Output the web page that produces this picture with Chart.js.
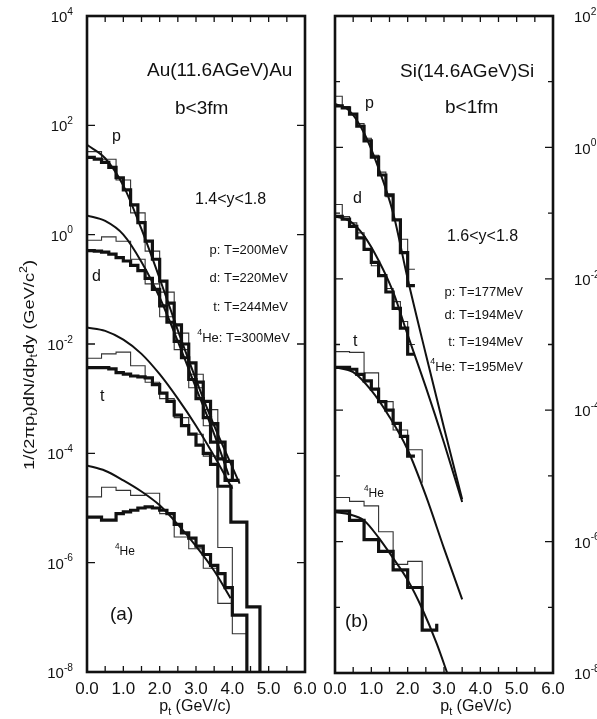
<!DOCTYPE html>
<html>
<head>
<meta charset="utf-8">
<script src="https://cdn.jsdelivr.net/npm/chart.js@4/dist/chart.umd.min.js"></script>
<style>
  html, body { margin: 0; padding: 0; background: #fff; overflow: hidden; width: 597px; height: 719px; }
  #left { position: absolute; left: 0; top: 0; }
  #right { position: absolute; left: 320px; top: 0; }
</style>
</head>
<body>
<canvas id="left" width="320" height="719"></canvas>
<canvas id="right" width="300" height="719"></canvas>
<script>
// ---- axis ticks ----
const xTicks = [0, 1, 2, 3, 4, 5, 6];
const xTickLabels = ['0.0', '1.0', '2.0', '3.0', '4.0', '5.0', '6.0'];
const auYExp = [4, 2, 0, -2, -4, -6, -8];
const siYExp = [2, 0, -2, -4, -6, -8];

// ---- (a) Au+Au, histogram bin edges (GeV/c) ----
const auEdgesP = [0,0.2,0.4,0.6,0.8,1.0,1.2,1.4,1.6,1.8,2.0,2.2,2.4,2.6,2.8,3.0,3.2,3.4,3.6,3.8,4.0,4.2];
const auEdgesD = [0,0.2,0.4,0.6,0.8,1.0,1.2,1.4,1.6,1.8,2.0,2.2,2.4,2.6,2.8,3.0,3.2,3.4,3.6,3.8,4.0];
const auEdgesT = [0,0.2,0.4,0.6,0.8,1.0,1.2,1.4,1.6,1.8,2.0,2.2,2.4,2.6,2.8,3.0,3.2,3.4,3.6,3.96,4.4,4.76];
const auEdgesHe = [0,0.2,0.4,0.6,0.8,1.0,1.2,1.4,1.6,1.8,2.0,2.2,2.4,2.6,2.8,3.0,3.2,3.4,3.6,3.8,4.0,4.4];
const auEdgesWide = [0,0.4,0.8,1.2,1.6,2.0,2.4,2.8,3.2,3.6,4.0];
const auEdgesWideP = [0,0.4,0.8,1.2,1.6,2.0,2.4,2.8,3.2,3.6,4.0,4.4];

// thick histograms
const auPThick = [26,24,21,17,11,6.6,3.5,1.66,0.76,0.355,0.141,0.056,0.0224,0.01,0.0045,0.002,8.9e-4,3.5e-4,1.6e-4,7.1e-5,3.2e-5];
const auDThick = [0.51,0.50,0.48,0.44,0.38,0.33,0.275,0.22,0.158,0.1,0.05,0.025,0.0112,0.0056,0.00224,0.001,4.5e-4,1.6e-4,7.9e-5,3.2e-5];
const auTThick = [3.7e-3,3.7e-3,3.7e-3,3.5e-3,3.0e-3,2.8e-3,2.6e-3,2.5e-3,2.4e-3,1.8e-3,1.26e-3,8.9e-4,5.0e-4,3.2e-4,2.24e-4,1.41e-4,1.0e-4,6.3e-5,2.5e-5,5.5e-6,1.55e-7];
const auHeThick = [6.8e-6,6.8e-6,6.0e-6,6.0e-6,7.9e-6,8.5e-6,9.1e-6,1.0e-5,1.05e-5,1.0e-5,9.1e-6,7.9e-6,5.0e-6,3.5e-6,2.8e-6,2.0e-6,1.41e-6,8.9e-7,6.3e-7,3.5e-7,1.1e-7];
// thin histograms
const auPThin = [33,24,10,2.5,0.5,0.089,0.0158,0.0028,6.3e-4,1.9e-6,5e-8];
const auDThin = [0.79,0.91,0.76,0.355,0.126,0.0316,0.0079,0.00158,3.2e-4,2.5e-5];
const auTThin = [5.5e-3,6.6e-3,7.1e-3,4.0e-3,2.0e-3,1.0e-3,4.5e-4,2.24e-4,8.9e-5,2.5e-5];
const auHeThin = [1.6e-5,2.4e-5,2.1e-5,1.7e-5,1.86e-5,7.9e-6,2.95e-6,1.8e-6,7.9e-7,1.8e-7];
// fit curves
const auPCurvePt = [0,0.5,1.0,1.5,2.0,2.5,3.0,3.5,4.0,4.2];
const auPCurve = [44,25,7.9,1.26,0.158,0.0178,0.00224,3.2e-4,5.6e-5,2.8e-5];
const auDCurvePt = [0,0.5,1.0,1.5,2.0,2.5,3.0,3.5,3.9];
const auDCurve = [2.24,1.78,1.0,0.316,0.0708,0.0112,0.00158,2.24e-4,4.0e-5];
const auTCurvePt = [0,0.5,1.0,1.5,2.0,2.5,3.0,3.5,4.0];
const auTCurve = [0.02,0.0174,0.012,0.0066,0.0028,0.001,3.2e-4,8.9e-5,2.24e-5];
const auHeCurvePt = [0,0.5,1.0,1.5,2.0,2.5,3.0,3.5,3.95];
const auHeCurve = [6.0e-5,4.8e-5,3.2e-5,2.0e-5,1.12e-5,5.0e-6,2.0e-6,7.1e-7,2.24e-7];

// ---- (b) Si+Si ----
const siEdges = [0,0.2,0.4,0.6,0.8,1.0,1.2,1.4,1.6,1.8,2.0,2.2];
const siEdgesWideT = [0,0.4,0.8,1.2,1.6,2.0,2.4];
const siEdgesWideHe = [0,0.4,0.8,1.2,1.6,2.0,2.4,2.8];

const siPThick = [4.3,4.0,3.2,2.1,1.26,0.71,0.38,0.19,0.079,0.025,0.0079];
const siPThin = [6.0,4.2,3.2,2.3,1.38,0.76,0.42,0.178,0.079,0.04,0.014];
const siDThick = [0.089,0.081,0.063,0.042,0.028,0.0178,0.0112,0.0063,0.00355,0.00178,7.1e-4];
const siDThin = [0.135,0.089,0.071,0.05,0.028,0.0158,0.0112,0.0071,0.0045,0.00224,0.001];
const siTThick = [4.5e-4,4.5e-4,4.2e-4,3.5e-4,2.8e-4,2.1e-4,1.35e-4,1.0e-4,6.3e-5,4.0e-5,2.0e-5];
const siTThin = [7.8e-4,7.6e-4,3.7e-4,1.35e-4,5.0e-5,2.5e-5];
const siHeThick = [2.9e-6,2.1e-6,1.07e-6,7.1e-7,3.7e-7,2.0e-7,4.5e-8];
const siHeThin = [4.7e-6,4.1e-6,3.5e-6,1.41e-6,4.5e-7,5.0e-7];

const siCurvePt = [0,0.4,0.8,1.2,1.6,2.0,2.5,3.0,3.5];
const siPCurve = [4.6,3.6,1.66,0.48,0.1,0.01,7.1e-4,5.4e-5,4.4e-6];
const siDCurve = [0.089,0.076,0.045,0.019,0.0063,0.0014,2.24e-4,3.2e-5,4.0e-6];
const siTCurvePt = [0,0.5,1.0,1.5,2.0,2.5,3.0,3.5];
const siTCurve = [4.5e-4,3.8e-4,2.0e-4,7.9e-5,2.5e-5,5.0e-6,7.9e-7,1.32e-7];
const siHeCurvePt = [0,0.4,0.8,1.2,1.6,2.0,2.4,2.8,3.12];
const siHeCurve = [2.8e-6,2.6e-6,2.1e-6,1.15e-6,5.6e-7,2.6e-7,9.5e-8,2.8e-8,8.9e-9];

const INK = '#111';
const FONT = '"Liberation Sans", Arial, Helvetica, sans-serif';

// histogram -> step points
function steps(edges, vals, tail) {
  const pts = vals.map((v, i) => ({x: edges[i], y: v}));
  pts.push({x: edges[edges.length - 1], y: vals[vals.length - 1]});
  if (tail !== undefined) pts.push({x: edges[edges.length - 1], y: tail});
  return pts;
}
function thick(data) {
  return {data, borderColor: INK, borderWidth: 3.2, stepped: true, pointRadius: 0, fill: false};
}
function thin(data) {
  return {data, borderColor: '#333', borderWidth: 1.1, stepped: true, pointRadius: 0, fill: false};
}
function curve(pts, vals) {
  return {data: pts.map((x, i) => ({x, y: vals[i]})), borderColor: INK, borderWidth: 2,
    cubicInterpolationMode: 'monotone', pointRadius: 0, fill: false};
}

// text with sub/superscripts: parts = [[text, 'sup'|'sub'|undefined], ...]
function rich(ctx, parts, x, y, size, align, width) {
  const small = size * 0.68;
  let w = 0;
  const ms = parts.map(p => {
    ctx.font = (p[1] ? small : size) + 'px ' + FONT;
    const m = ctx.measureText(p[0]).width;
    w += m;
    return m;
  });
  const sx = width ? width / w : 1;
  const x0 = align === 'right' ? x - w * sx : align === 'center' ? x - w * sx / 2 : x;
  ctx.save();
  ctx.translate(x0, y);
  ctx.scale(sx, 1);
  ctx.textBaseline = 'middle';
  ctx.textAlign = 'left';
  let cx = 0;
  parts.forEach((p, i) => {
    ctx.font = (p[1] ? small : size) + 'px ' + FONT;
    const dy = p[1] === 'sup' ? -size * 0.4 : p[1] === 'sub' ? size * 0.3 : 0;
    ctx.fillText(p[0], cx, dy);
    cx += ms[i];
  });
  ctx.restore();
}

const framePlugin = {
  id: 'frame',
  afterDatasetsDraw(chart, args, opt) {
    const ctx = chart.ctx, a = chart.chartArea;
    const xs = chart.scales.x, ys = chart.scales.y;
    const off = opt.offset;
    ctx.save();
    ctx.strokeStyle = INK;
    ctx.fillStyle = INK;

    // inward ticks
    ctx.lineWidth = 1.3;
    ctx.beginPath();
    for (let v = 0.5; v < 6; v += 0.5) {
      const px = xs.getPixelForValue(v);
      ctx.moveTo(px, a.bottom); ctx.lineTo(px, a.bottom - 6);
      ctx.moveTo(px, a.top); ctx.lineTo(px, a.top + 6);
    }
    for (let e = opt.yExp[0]; e >= opt.yExp[opt.yExp.length - 1]; e--) {
      const major = e % 2 === 0;
      if (!major && !opt.oddTicks) continue;
      const len = major ? 8 : 5;
      const py = ys.getPixelForValue(Math.pow(10, e));
      ctx.moveTo(a.left, py); ctx.lineTo(a.left + len, py);
      ctx.moveTo(a.right, py); ctx.lineTo(a.right - len, py);
    }
    ctx.stroke();

    // frame
    ctx.lineWidth = 2.6;
    ctx.strokeRect(a.left, a.top, a.right - a.left, a.bottom - a.top);

    // x tick labels
    xTicks.forEach((v, i) => {
      rich(ctx, [[xTickLabels[i]]], xs.getPixelForValue(v), 689, 17, 'center');
    });
    // y tick labels (right-hand ones run past the page edge, as in the scan)
    opt.yExp.forEach(e => {
      const py = ys.getPixelForValue(Math.pow(10, e));
      const parts = [['10'], [String(e), 'sup']];
      if (opt.labelSide === 'left') rich(ctx, parts, 73 - off, py + 2, 15, 'right');
      else rich(ctx, parts, 574 - off, py + 2, 15, 'left');
    });

    // annotations
    opt.texts.forEach(t => rich(ctx, t.parts, t.x - off, t.y, t.size, t.align || 'left', t.width));

    // axis titles
    rich(ctx, [['p'], ['t', 'sub'], [' (GeV/c)']], opt.xTitleX - off, 707, 16, 'center');
    if (opt.yTitle) {
      ctx.save();
      ctx.translate(30, 365);
      ctx.rotate(-Math.PI / 2);
      rich(ctx, [['1/(2\u03c0p'], ['t', 'sub'], [')dN/dp'], ['t', 'sub'], ['dy (GeV/c'], ['2', 'sup'], [')']],
        0, 0, 15, 'center', 210);
      ctx.restore();
    }
    ctx.restore();
  }
};

function makePanel(id, datasets, yMin, yMax, padding, frame) {
  return new Chart(document.getElementById(id), {
    type: 'line',
    data: {datasets},
    options: {
      responsive: false,
      animation: false,
      devicePixelRatio: 1,
      events: [],
      layout: {padding},
      plugins: {legend: {display: false}, tooltip: {enabled: false}, frame},
      scales: {
        x: {type: 'linear', min: 0, max: 6, display: false},
        y: {type: 'logarithmic', min: yMin, max: yMax, display: false}
      }
    },
    plugins: [framePlugin]
  });
}

const BOTTOM = 1e-9;

makePanel('left', [
  thick(steps(auEdgesP, auPThick)),
  thick(steps(auEdgesD, auDThick)),
  thick(steps(auEdgesT, auTThick, BOTTOM)),
  thick(steps(auEdgesHe, auHeThick, BOTTOM)),
  curve(auPCurvePt, auPCurve),
  curve(auDCurvePt, auDCurve),
  curve(auTCurvePt, auTCurve),
  curve(auHeCurvePt, auHeCurve),
  thin(steps(auEdgesWideP, auPThin, BOTTOM)),
  thin(steps(auEdgesWide, auDThin)),
  thin(steps(auEdgesWide, auTThin)),
  thin(steps(auEdgesWide, auHeThin))
], 1e-8, 1e4, {left: 87, right: 15, top: 16, bottom: 47}, {
  offset: 0,
  yExp: auYExp,
  oddTicks: false,
  labelSide: 'left',
  xTitleX: 195,
  yTitle: true,
  texts: [
    {parts: [['Au(11.6AGeV)Au']], x: 147, y: 71, size: 19},
    {parts: [['b<3fm']], x: 175, y: 109, size: 19},
    {parts: [['p']], x: 112, y: 137, size: 16},
    {parts: [['1.4<y<1.8']], x: 195, y: 200, size: 16},
    {parts: [['p: T=200MeV']], x: 288, y: 250, size: 13, align: 'right'},
    {parts: [['d: T=220MeV']], x: 288, y: 278, size: 13, align: 'right'},
    {parts: [['t: T=244MeV']], x: 288, y: 307, size: 13, align: 'right'},
    {parts: [['4', 'sup'], ['He: T=300MeV']], x: 290, y: 338, size: 13, align: 'right'},
    {parts: [['d']], x: 92, y: 277, size: 16},
    {parts: [['t']], x: 100, y: 397, size: 16},
    {parts: [['4', 'sup'], ['He']], x: 115, y: 552, size: 12},
    {parts: [['(a)']], x: 110, y: 615, size: 19}
  ]
});

makePanel('right', [
  thick(steps(siEdges, siPThick)),
  thick(steps(siEdges, siDThick)),
  thick(steps(siEdges, siTThick)),
  thick(steps(siEdgesWideHe, siHeThick, 5.6e-8)),
  curve(siCurvePt, siPCurve),
  curve(siCurvePt, siDCurve),
  curve(siTCurvePt, siTCurve),
  curve(siHeCurvePt, siHeCurve),
  thin(steps(siEdges, siPThin)),
  thin(steps(siEdges, siDThin)),
  thin(steps(siEdgesWideT, siTThin, 7.9e-6)),
  thin(steps(siEdgesWideT, siHeThin, 2.0e-7))
], 1e-8, 1e2, {left: 15, right: 67, top: 16, bottom: 46}, {
  offset: 320,
  yExp: siYExp,
  oddTicks: true,
  labelSide: 'right',
  xTitleX: 476,
  yTitle: false,
  texts: [
    {parts: [['Si(14.6AGeV)Si']], x: 400, y: 72, size: 19},
    {parts: [['b<1fm']], x: 445, y: 108, size: 19},
    {parts: [['p']], x: 365, y: 104, size: 16},
    {parts: [['d']], x: 353, y: 199, size: 16},
    {parts: [['1.6<y<1.8']], x: 447, y: 237, size: 16},
    {parts: [['p: T=177MeV']], x: 523, y: 292, size: 13, align: 'right'},
    {parts: [['d: T=194MeV']], x: 523, y: 315, size: 13, align: 'right'},
    {parts: [['t: T=194MeV']], x: 523, y: 342, size: 13, align: 'right'},
    {parts: [['4', 'sup'], ['He: T=195MeV']], x: 523, y: 367, size: 13, align: 'right'},
    {parts: [['t']], x: 353, y: 342, size: 16},
    {parts: [['4', 'sup'], ['He']], x: 364, y: 494, size: 12},
    {parts: [['(b)']], x: 345, y: 622, size: 19}
  ]
});
</script>
</body>
</html>
